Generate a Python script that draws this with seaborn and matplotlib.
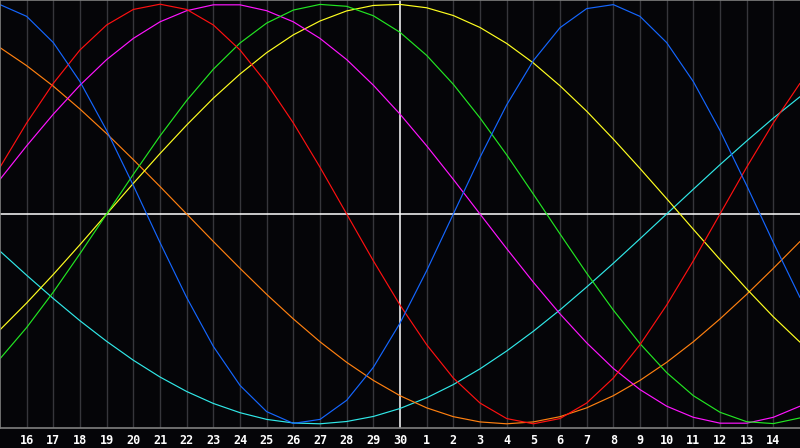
import numpy as np
import pandas as pd
import seaborn as sns
import matplotlib
matplotlib.use("Agg")
import matplotlib.pyplot as plt

# tick labels: days shown under the chart (16 .. 30, then 1 .. 14 of next month)
day_labels = [str(d) for d in range(16, 31)] + [str(d) for d in range(1, 15)]
today_label = "30"

# cycle values, one per day, starting one day before "16"
physical = [0.998, 0.942, 0.817, 0.631, 0.398, 0.136, -0.136, -0.398, -0.631, -0.817,
            -0.942, -0.998, -0.979, -0.888, -0.731, -0.520, -0.270, 0.0, 0.270, 0.520,
            0.731, 0.888, 0.979, 0.998, 0.942, 0.817, 0.631, 0.398, 0.136, -0.136, -0.398]
emotional = [0.223, 0.434, 0.623, 0.782, 0.901, 0.975, 1.0, 0.975, 0.901, 0.782,
             0.623, 0.434, 0.223, 0.0, -0.223, -0.434, -0.623, -0.782, -0.901, -0.975,
             -1.0, -0.975, -0.901, -0.782, -0.623, -0.434, -0.223, 0.0, 0.223, 0.434, 0.623]
intellectual = [-0.690, -0.541, -0.372, -0.189, 0.0, 0.189, 0.372, 0.541, 0.690, 0.815,
                0.910, 0.972, 0.999, 0.990, 0.945, 0.866, 0.756, 0.618, 0.458, 0.282,
                0.095, -0.095, -0.282, -0.458, -0.618, -0.756, -0.866, -0.945, -0.990, -0.999, -0.972]
intuitive = [0.165, 0.325, 0.476, 0.614, 0.736, 0.837, 0.916, 0.969, 0.997, 0.997,
             0.969, 0.916, 0.837, 0.736, 0.614, 0.476, 0.325, 0.165, 0.0, -0.165,
             -0.325, -0.476, -0.614, -0.736, -0.837, -0.916, -0.969, -0.997, -0.997, -0.969, -0.916]
aesthetic = [-0.552, -0.424, -0.288, -0.146, 0.0, 0.146, 0.288, 0.424, 0.552, 0.667,
             0.769, 0.854, 0.920, 0.968, 0.994, 0.999, 0.983, 0.946, 0.889, 0.813,
             0.720, 0.611, 0.490, 0.357, 0.217, 0.073, -0.073, -0.217, -0.357, -0.490, -0.611]
awareness = [0.793, 0.707, 0.609, 0.500, 0.383, 0.259, 0.131, 0.0, -0.131, -0.259,
             -0.383, -0.500, -0.609, -0.707, -0.793, -0.866, -0.924, -0.966, -0.991, -1.0,
             -0.991, -0.966, -0.924, -0.866, -0.793, -0.707, -0.609, -0.500, -0.383, -0.259, -0.131]
spiritual = [-0.177, -0.292, -0.403, -0.509, -0.607, -0.697, -0.777, -0.846, -0.903, -0.947,
             -0.979, -0.996, -1.0, -0.989, -0.965, -0.927, -0.876, -0.813, -0.738, -0.653,
             -0.559, -0.457, -0.348, -0.235, -0.118, 0.0, 0.118, 0.235, 0.348, 0.457, 0.559]

series = {
    "spiritual": spiritual,
    "awareness": awareness,
    "aesthetic": aesthetic,
    "intuitive": intuitive,
    "intellectual": intellectual,
    "emotional": emotional,
    "physical": physical,
}
colors = {
    "physical": "#1466ff",
    "emotional": "#ff1010",
    "intellectual": "#22e622",
    "intuitive": "#ff14ff",
    "aesthetic": "#ffff20",
    "awareness": "#ff8010",
    "spiritual": "#30e8e8",
}

# day index: 0 is the first label, data starts one day earlier
day_idx = np.arange(-1, len(physical) - 1)
frames = [pd.DataFrame({"day": day_idx, "value": vals, "cycle": name})
          for name, vals in series.items()]
df = pd.concat(frames, ignore_index=True)

sns.set_style("dark")
bg = "#050508"
fig = plt.figure(figsize=(8, 4.48), dpi=100, facecolor=bg)
ax = fig.add_axes([0, 20 / 448, 1, 428 / 448])
ax.set_facecolor(bg)

# day grid
for i, lab in enumerate(day_labels):
    if lab == today_label:
        ax.axvline(i, color="white", lw=1.1, zorder=1)
    else:
        ax.axvline(i, color="#36363b", lw=1.0, zorder=1)
ax.axhline(0, color="white", lw=1.1, zorder=1)

sns.lineplot(data=df, x="day", y="value", hue="cycle", palette=colors,
             linewidth=0.85, legend=False, ax=ax, zorder=2)

ax.set_xlim(day_idx[0], day_idx[-1])
ax.set_ylim(-1.02, 1.02)
ax.set_xticks(range(len(day_labels)))
ax.set_xticklabels(day_labels, color="white", fontsize=8.5,
                   fontweight="bold", family="DejaVu Sans Mono")
ax.tick_params(axis="x", length=0, pad=4)
ax.set_yticks([])
ax.set_xlabel("")
ax.set_ylabel("")
ax.grid(False)
for side, sp in ax.spines.items():
    sp.set_color("#808080")
    sp.set_linewidth(1.2)
    sp.set_visible(side != "right")

fig.savefig("out.png", dpi=100, facecolor=bg)
